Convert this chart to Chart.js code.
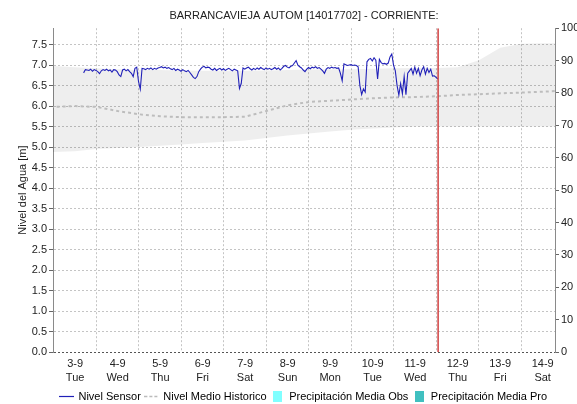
<!DOCTYPE html>
<html>
<head>
<meta charset="utf-8">
<script src="https://cdn.jsdelivr.net/npm/chart.js@4.4.1/dist/chart.umd.min.js"></script>
<style>
html, body { margin: 0; padding: 0; background: #fff; }
</style>
</head>
<body>
<canvas id="canvas" width="577" height="404"></canvas>
<script>
// days are counted from 3-9 00:00
var dateLabels = ['3-9', '4-9', '5-9', '6-9', '7-9', '8-9', '9-9', '10-9', '11-9', '12-9', '13-9', '14-9'];
var dayNames = ['Tue', 'Wed', 'Thu', 'Fri', 'Sat', 'Sun', 'Mon', 'Tue', 'Wed', 'Thu', 'Fri', 'Sat'];

// hourly sensor readings
var sensorStart = 0.2;
var sensorStep = 1 / 24;
var sensorLevel = [
    6.81, 6.89, 6.88, 6.87, 6.90, 6.85, 6.89, 6.87, 6.84, 6.79,
    6.86, 6.89, 6.87, 6.90, 6.86, 6.88, 6.83, 6.89, 6.88, 6.84,
    6.76, 6.72, 6.88, 6.90, 6.86, 6.89, 6.84, 6.80, 6.72, 6.92,
    6.95, 6.60, 6.41, 6.92, 6.91, 6.89, 6.92, 6.90, 6.93, 6.89,
    6.92, 6.90, 6.93, 6.94, 6.96, 6.93, 6.95, 6.92, 6.94, 6.91,
    6.89, 6.92, 6.87, 6.90, 6.88, 6.85, 6.89, 6.86, 6.84, 6.87,
    6.82, 6.76, 6.70, 6.67, 6.72, 6.84, 6.90, 6.95, 6.97, 6.93,
    6.95, 6.94, 6.90, 6.88, 6.92, 6.87, 6.90, 6.92, 6.88, 6.91,
    6.87, 6.90, 6.92, 6.89, 6.86, 6.90, 6.88, 6.86, 6.43, 6.55,
    6.93, 6.90, 6.93, 6.95, 6.91, 6.88, 6.92, 6.89, 6.93, 6.90,
    6.94, 6.91, 6.89, 6.93, 6.90, 6.92, 6.89, 6.91, 6.94, 6.90,
    6.93, 6.88, 6.92, 6.97, 6.99, 6.95, 6.93, 6.97, 6.99, 7.05,
    7.11, 7.00, 6.96, 6.93, 6.88, 6.84, 6.90, 6.94, 6.91, 6.95,
    6.93, 6.96, 6.92, 6.94, 6.90, 6.86, 6.80, 6.90, 6.94, 6.92,
    6.95, 6.93, 6.94, 6.92, 6.93, 6.80, 6.62, 7.03, 7.01, 6.99,
    7.00, 7.01, 6.99, 7.00, 6.99, 6.96, 6.50, 6.28, 6.42, 6.34,
    7.08, 7.14, 7.16, 7.10, 7.18, 7.12, 6.66, 7.14, 7.06, 7.03,
    7.04, 7.02, 7.05, 7.20, 7.27, 7.00, 6.86, 6.50, 6.27, 6.55,
    6.30, 6.72, 6.28, 6.80, 6.86, 6.92, 6.78, 6.95, 6.80, 6.92,
    6.74, 6.88, 6.96, 6.78, 6.92, 6.82, 6.90, 6.73, 6.74, 6.70,
    6.66
];

// historic mean and its range, every half day
var histDays = [-1, -0.5, 0, 0.5, 1, 1.5, 2, 2.5, 3, 3.5, 4, 4.5, 5, 5.5, 6, 6.5, 7, 7.5, 8, 8.5, 9, 9.5, 10, 10.5, 11, 11.5];
var histMean = [5.98, 5.98, 6.00, 5.98, 5.88, 5.80, 5.75, 5.73, 5.73, 5.73, 5.74, 5.88, 6.02, 6.10, 6.13, 6.16, 6.19, 6.21, 6.22, 6.24, 6.27, 6.29, 6.31, 6.33, 6.35, 6.38];
var histHigh = [6.99, 6.98, 6.95, 6.92, 6.90, 6.88, 6.88, 6.87, 6.86, 6.86, 6.86, 6.87, 6.88, 6.89, 6.90, 6.90, 6.91, 6.92, 6.93, 6.93, 6.95, 7.12, 7.42, 7.52, 7.53, 7.54];
var histLow = [4.87, 4.88, 4.90, 4.95, 4.98, 5.00, 5.03, 5.06, 5.10, 5.13, 5.16, 5.22, 5.28, 5.33, 5.38, 5.42, 5.45, 5.48, 5.50, 5.50, 5.50, 5.50, 5.50, 5.50, 5.50, 5.50];

// no rain recorded / forecast in this period
var precipObs = [];
var precipPro = [];

var nowDay = 8.54;
var xMin = -0.52;
var xMax = 11.29;
var levelMax = 7.9;

function toPoints(xs, ys) {
    return xs.map(function(x, i) { return {x: x, y: ys[i]}; });
}

var sensorPoints = sensorLevel.map(function(v, i) {
    return {x: sensorStart + i * sensorStep, y: v};
});

function legendIcon(w, h, draw) {
    var c = document.createElement('canvas');
    c.width = w;
    c.height = h;
    draw(c.getContext('2d'));
    return c;
}

var icons = [
    legendIcon(15, 3, function(ctx) {
        ctx.strokeStyle = '#2020b8'; ctx.lineWidth = 1.2;
        ctx.beginPath(); ctx.moveTo(0, 1.5); ctx.lineTo(15, 1.5); ctx.stroke();
    }),
    legendIcon(15, 3, function(ctx) {
        ctx.strokeStyle = '#bbbbbb'; ctx.lineWidth = 1.5; ctx.setLineDash([3, 2]);
        ctx.beginPath(); ctx.moveTo(0, 1.5); ctx.lineTo(15, 1.5); ctx.stroke();
    }),
    legendIcon(9, 11, function(ctx) { ctx.fillStyle = '#80ffff'; ctx.fillRect(0, 0, 9, 11); }),
    legendIcon(9, 11, function(ctx) { ctx.fillStyle = '#40c0c0'; ctx.fillRect(0, 0, 9, 11); })
];
var legendDatasets = [0, 1, 5, 6];

// title and legend are centred over the plot, not the whole canvas
var centerOnPlot = {
    id: 'centerOnPlot',
    afterLayout: function(chart) {
        var a = chart.chartArea;
        [chart.titleBlock, chart.legend].forEach(function(b) {
            if (b) {
                b.left = a.left;
                b.right = a.right;
                b.width = a.right - a.left;
            }
        });
    }
};

Chart.defaults.font.family = "'Liberation Sans', Arial, sans-serif";
Chart.defaults.font.size = 11;
Chart.defaults.color = '#222';

var gridColor = '#c4c4c4';
var axisColor = '#8a8a8a';

var config = {
    type: 'line',
    data: {
        datasets: [
            {
                label: 'Nivel Sensor',
                data: sensorPoints,
                borderColor: '#2020b8',
                borderWidth: 1.1,
                pointRadius: 0,
                tension: 0,
                order: 1
            },
            {
                label: 'Nivel Medio Historico',
                data: toPoints(histDays, histMean),
                borderColor: '#bdbdbd',
                borderWidth: 2,
                borderDash: [3, 3],
                pointRadius: 0,
                clip: 0,
                order: 2
            },
            {
                label: 'band low',
                data: toPoints(histDays, histLow),
                borderColor: 'rgba(0,0,0,0)',
                pointRadius: 0,
                fill: false,
                clip: 0,
                order: 4
            },
            {
                label: 'band high',
                data: toPoints(histDays, histHigh),
                borderColor: 'rgba(0,0,0,0)',
                backgroundColor: 'rgba(0,0,0,0.065)',
                pointRadius: 0,
                fill: '-1',
                clip: 0,
                order: 3
            },
            {
                label: 'now',
                data: [{x: nowDay, y: 0}, {x: nowDay, y: levelMax}],
                borderColor: '#d04040',
                borderWidth: 1.5,
                pointRadius: 0,
                order: 0
            },
            {
                type: 'bar',
                label: 'Precipitación Media Obs',
                data: precipObs,
                backgroundColor: '#80ffff',
                yAxisID: 'y1'
            },
            {
                type: 'bar',
                label: 'Precipitación Media Pro',
                data: precipPro,
                backgroundColor: '#40c0c0',
                yAxisID: 'y1'
            }
        ]
    },
    options: {
        responsive: false,
        animation: false,
        events: [],
        layout: { padding: 0 },
        scales: {
            x: {
                type: 'linear',
                min: xMin,
                max: xMax,
                offset: false,
                grid: { color: gridColor, drawTicks: false },
                border: { display: false, dash: [2, 2] },
                ticks: {
                    stepSize: 1,
                    includeBounds: false,
                    autoSkip: false,
                    maxRotation: 0,
                    padding: 5,
                    font: { lineHeight: 1.3 },
                    callback: function(v) { return [dateLabels[v], dayNames[v]]; }
                },
                afterFit: function(s) { s.height = 34; }
            },
            y: {
                position: 'left',
                min: 0,
                max: levelMax,
                grid: {
                    color: function(c) { return c.tick && c.tick.value === 0 ? '#555' : gridColor; },
                    tickLength: 4,
                    tickColor: '#666',
                    tickBorderDash: []
                },
                border: { color: axisColor, dash: [2, 2] },
                ticks: {
                    stepSize: 0.5,
                    includeBounds: false,
                    padding: 2,
                    callback: function(v) { return v.toFixed(1); }
                },
                title: {
                    display: true,
                    text: 'Nivel del Agua [m]',
                    padding: 16
                },
                afterFit: function(s) { s.width = 53; }
            },
            y1: {
                position: 'right',
                min: 0,
                max: 100,
                grid: { drawOnChartArea: false, tickLength: 4, tickColor: '#666' },
                border: { color: axisColor },
                ticks: { stepSize: 10, padding: 2 },
                afterFit: function(s) { s.width = 22; }
            }
        },
        plugins: {
            title: {
                display: true,
                text: 'BARRANCAVIEJA AUTOM [14017702] - CORRIENTE:',
                color: '#222',
                font: { size: 11, weight: 'normal' },
                padding: { top: 9, bottom: 6 }
            },
            legend: {
                position: 'bottom',
                maxHeight: 18,
                labels: {
                    usePointStyle: true,
                    pointStyleWidth: 12,
                    padding: 5,
                    generateLabels: function(chart) {
                        return legendDatasets.map(function(idx, i) {
                            return {
                                text: chart.data.datasets[idx].label,
                                pointStyle: icons[i],
                                fillStyle: 'rgba(0,0,0,0)',
                                strokeStyle: 'rgba(0,0,0,0)',
                                lineWidth: 0,
                                hidden: false,
                                datasetIndex: idx
                            };
                        });
                    }
                }
            },
            tooltip: { enabled: false }
        }
    },
    plugins: [centerOnPlot]
};

window.onload = function() {
    var ctx = document.getElementById('canvas').getContext('2d');
    window.myLine = new Chart(ctx, config);
};
</script>
</body>
</html>
